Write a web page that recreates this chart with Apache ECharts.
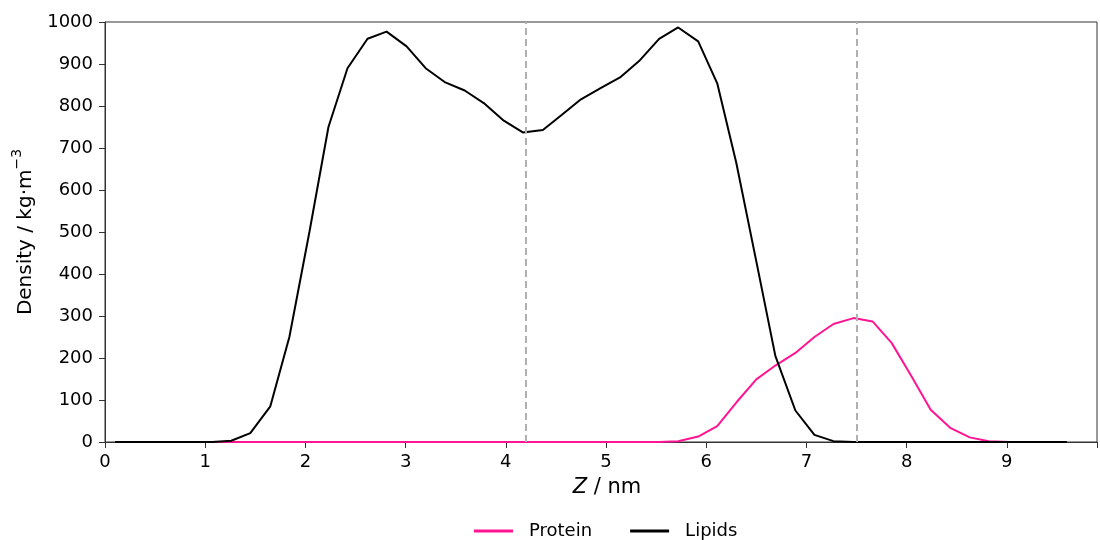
<!DOCTYPE html>
<html>
<head>
<meta charset="utf-8">
<script src="https://cdn.jsdelivr.net/npm/echarts@6/dist/echarts.min.js"></script>
<style>html,body{margin:0;padding:0;background:#fff}#c{width:1100px;height:540px}</style>
</head>
<body>
<div id="c"></div>
<script>
const zValues = [0.10,0.29,0.49,0.68,0.87,1.07,1.26,1.45,1.65,1.84,2.04,2.23,2.42,2.62,2.81,3.01,3.20,3.39,3.59,3.78,3.98,4.17,4.37,4.56,4.75,4.95,5.14,5.33,5.53,5.72,5.92,6.11,6.30,6.50,6.69,6.89,7.08,7.27,7.47,7.66,7.85,8.05,8.24,8.44,8.63,8.82,9.02,9.21,9.40,9.60];
const lipids = [0,0,0,0,0,0,3,21,85,250,500,750,890,960,977,942,890,857,837,807,765,737,743,779,816,843,868,907,960,987,954,854,665,430,205,75,17,2,0,0,0,0,0,0,0,0,0,0,0,0];
const protein = [0,0,0,0,0,0,0,0,0,0,0,0,0,0,0,0,0,0,0,0,0,0,0,0,0,0,0,0,0,2,13,38,94,149,182,212,250,281,295,287,236,156,77,33,11,2,0,0,0,0];
const markerLines = [4.2, 7.5];
const seriesNames = ['Protein', 'Lipids'];

const font = 'DejaVu Sans';
const chart = echarts.init(document.getElementById('c'), null, {renderer: 'canvas'});
chart.setOption({
  animation: false,
  backgroundColor: '#fff',
  textStyle: {fontFamily: font},
  grid: {left: 105, right: 1, top: 22, bottom: 98, show: true, borderColor: '#333', borderWidth: 1, containLabel: false},
  legend: {
    top: 517, left: 469, itemWidth: 39, itemHeight: 3, itemGap: 38,
    textStyle: {fontFamily: font, fontSize: 18, color: '#000', padding: [0, 0, 0, 11]},
    data: seriesNames.map(n => ({name: n, icon: 'rect'}))
  },
  xAxis: {
    type: 'value', min: 0, max: 9.9, interval: 1,
    axisLine: {show: true, lineStyle: {color: '#333', width: 1}},
    axisTick: {show: true, length: 6, lineStyle: {color: '#333'}},
    splitLine: {show: false},
    axisLabel: {fontFamily: font, fontSize: 18, color: '#000', margin: 11,
      formatter: v => (v > 9.5 ? '' : String(Math.round(v)))},
    name: '{i|Z} / nm', nameLocation: 'middle', nameGap: 35,
    nameTextStyle: {fontFamily: font, fontSize: 21, color: '#000', padding: [0, 0, 0, 12],
      rich: {i: {fontFamily: font, fontSize: 21, fontStyle: 'italic', color: '#000'}}}
  },
  yAxis: {
    type: 'value', min: 0, max: 1000, interval: 100,
    axisLine: {show: true, lineStyle: {color: '#333', width: 1}},
    axisTick: {show: true, length: 6, lineStyle: {color: '#333'}},
    splitLine: {show: false},
    axisLabel: {fontFamily: font, fontSize: 18, color: '#000', margin: 12, formatter: v => String(v)},
    name: '{m|Density / kg·m}{s|−3}', nameLocation: 'middle', nameGap: 66,
    nameTextStyle: {fontFamily: font, fontSize: 20, color: '#000',
      rich: {
        m: {fontFamily: font, fontSize: 20, color: '#000', verticalAlign: 'bottom', lineHeight: 26},
        s: {fontFamily: font, fontSize: 14, color: '#000', verticalAlign: 'top', lineHeight: 14}
      }}
  },
  series: [
    {
      name: seriesNames[0], type: 'line', showSymbol: false, symbol: 'none',
      data: zValues.map((z, i) => [z, protein[i]]),
      lineStyle: {color: '#ff1493', width: 2}, itemStyle: {color: '#ff1493'},
      markLine: {
        silent: true, symbol: 'none', label: {show: false},
        lineStyle: {color: '#b0b0b0', type: [7, 4], width: 2},
        data: markerLines.map(x => ({xAxis: x}))
      }
    },
    {
      name: seriesNames[1], type: 'line', showSymbol: false, symbol: 'none',
      data: zValues.map((z, i) => [z, lipids[i]]),
      lineStyle: {color: '#000000', width: 2}, itemStyle: {color: '#000000'}
    }
  ]
});
</script>
</body>
</html>
